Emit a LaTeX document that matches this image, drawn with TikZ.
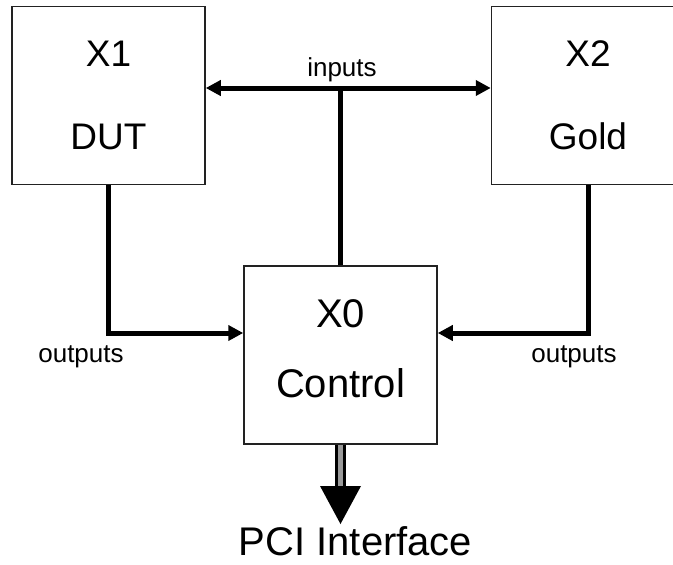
\documentclass[tikz,border=0pt]{standalone}
\usepackage{fontspec}
\setmainfont{Liberation Sans}
\usetikzlibrary{positioning, arrows.meta, calc}
\definecolor{clrborder}{HTML}{222222}
\definecolor{clrbus}{HTML}{000000}
\definecolor{clrshaft}{HTML}{9A9A9A}
\definecolor{clrtext}{HTML}{000000}

\begin{document}
\begin{tikzpicture}[
    x=1pt, y=-1pt,
    >={Triangle[length=15pt, width=15pt]},
    every node/.style={text=clrtext},
    block/.style={draw=clrborder, line width=1.5pt, fill=white, minimum width=193pt,
                  minimum height=178pt, align=center, inner sep=0pt},
    bigtext/.style={font=\fontsize{37}{83}\selectfont},
    ctrltext/.style={font=\fontsize{40}{70}\selectfont, text depth=12pt},
    bus/.style={draw=clrbus, line width=5pt},
    busarrow/.style={bus, ->},
    pcishaft/.style={draw=black, line width=3pt, double=clrshaft, double distance=5pt},
    label/.style={font=\fontsize{26}{30}\selectfont, anchor=base},
    subtitle/.style={font=\fontsize{40}{44}\selectfont, anchor=base, inner sep=0pt},
]
\useasboundingbox (0,0) rectangle (673,565);
\clip (0,0) rectangle (673,565);
\node[block, bigtext] (x1_box) at (108.5,95.5) {X1\\DUT};
\node[block, bigtext] (x2_box) at (588,95.5) {X2\\Gold};
\node[block, ctrltext] (x0_box) at (340.5,355) {X0\\Control};
\coordinate (in_bus) at (340.5,88);
\coordinate (pci_base) at (340.5,486);
\coordinate (pci_tip) at (340.5,524);
\draw[bus] (x0_box.north) -- (in_bus);
\draw[bus, <->] (x1_box.east |- in_bus) -- (x2_box.west |- in_bus);
\draw[busarrow] (x1_box.south) |- ([yshift=22pt]x0_box.west);
\draw[busarrow] (x2_box.south) |- ([yshift=22pt]x0_box.east);
\draw[pcishaft] (x0_box.south) -- (pci_base);
\fill[black] ([xshift=-20.5pt]pci_base) -- ([xshift=20.5pt]pci_base) -- (pci_tip) -- cycle;
\node[label] (in_lbl) at (342,76) {inputs};
\node[label] (out_lbl_l) at (81,362) {outputs};
\node[label] (out_lbl_r) at (574,362) {outputs};
\node[subtitle] (pci_lbl) at (355.5,555) {PCI Interface};
\end{tikzpicture}
\end{document}
